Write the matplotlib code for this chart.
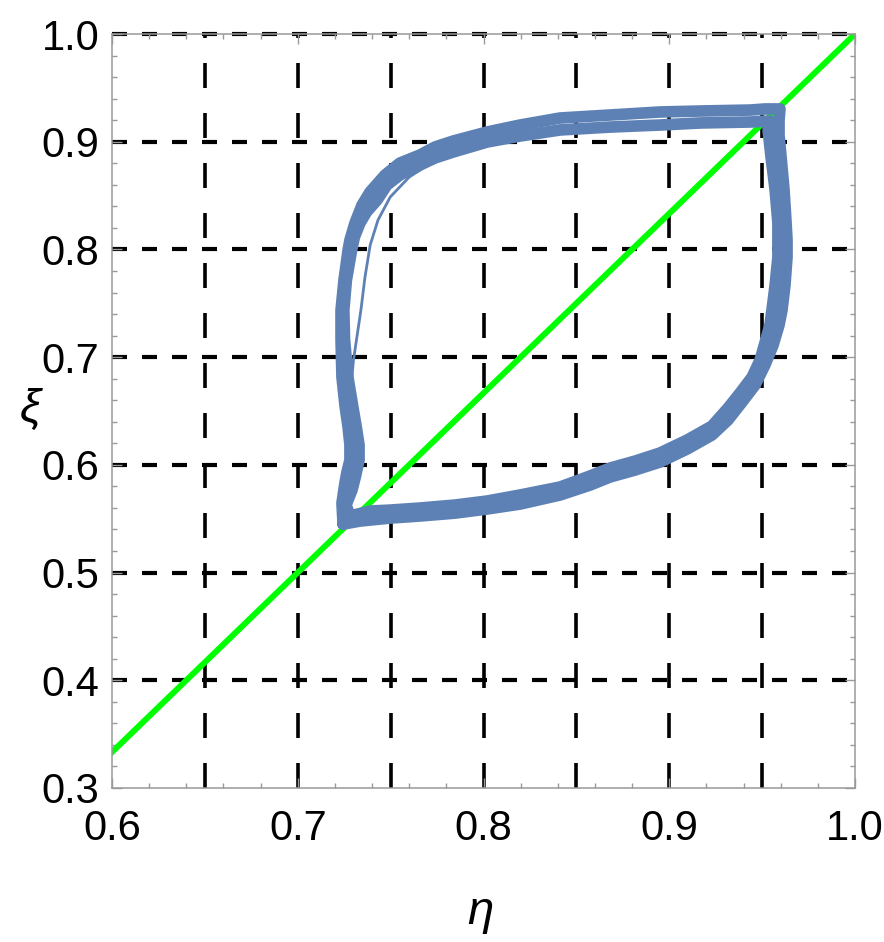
import matplotlib
matplotlib.use("Agg")
import matplotlib.pyplot as plt
from matplotlib.ticker import MultipleLocator

plt.rcParams['font.family'] = ['Liberation Sans', 'DejaVu Sans']
plt.rcParams['lines.scale_dashes'] = False

# outer lap of the cycle (eta, xi)
lap1_eta = [0.7244, 0.7335, 0.7497, 0.7658, 0.7847, 0.8019, 0.8197, 0.8412, 0.8573, 0.8681,
            0.8816, 0.8950, 0.9096, 0.9230, 0.9316, 0.9392, 0.9462, 0.9515, 0.9559, 0.9591,
            0.9607, 0.9623, 0.9634, 0.9634, 0.9629, 0.9618, 0.9602, 0.9591, 0.9591, 0.9596,
            0.9515, 0.9435, 0.9166, 0.8950, 0.8681, 0.8412, 0.8197, 0.8019, 0.7836, 0.7739,
            0.7658, 0.7550, 0.7470, 0.7389, 0.7346, 0.7308, 0.7281, 0.7271, 0.7249, 0.7233,
            0.7233, 0.7238, 0.7254, 0.7271, 0.7281, 0.7281, 0.7265, 0.7254, 0.7238, 0.7244]
lap1_xi = [0.5450, 0.5478, 0.5506, 0.5525, 0.5552, 0.5590, 0.5636, 0.5720, 0.5812, 0.5887,
           0.5952, 0.6026, 0.6147, 0.6277, 0.6416, 0.6583, 0.6741, 0.6927, 0.7112, 0.7298,
           0.7437, 0.7669, 0.7929, 0.8087, 0.8245, 0.8552, 0.8858, 0.9062, 0.9201, 0.9304,
           0.9304, 0.9294, 0.9285, 0.9276, 0.9248, 0.9220, 0.9155, 0.9090, 0.9006, 0.8951,
           0.8877, 0.8802, 0.8691, 0.8533, 0.8412, 0.8245, 0.8087, 0.7994, 0.7716, 0.7437,
           0.7159, 0.6815, 0.6555, 0.6351, 0.6184, 0.6045, 0.5933, 0.5831, 0.5645, 0.5450]

# inner lap
lap2_eta = [0.7281, 0.7389, 0.7497, 0.7658, 0.7847, 0.8019, 0.8197, 0.8412, 0.8573, 0.8681,
            0.8816, 0.8950, 0.9096, 0.9230, 0.9316, 0.9381, 0.9446, 0.9489, 0.9515, 0.9542,
            0.9553, 0.9570, 0.9585, 0.9585, 0.9585, 0.9570, 0.9548, 0.9532, 0.9542, 0.9435,
            0.9166, 0.8950, 0.8681, 0.8412, 0.8197, 0.8019, 0.7836, 0.7739, 0.7658, 0.7550,
            0.7480, 0.7427, 0.7370, 0.7335, 0.7305, 0.7290, 0.7262, 0.7248, 0.7252, 0.7270,
            0.7295, 0.7315, 0.7330, 0.7330, 0.7310, 0.7292, 0.7260, 0.7281]
lap2_xi = [0.5525, 0.5571, 0.5580, 0.5599, 0.5627, 0.5664, 0.5720, 0.5794, 0.5896, 0.5970,
           0.6035, 0.6110, 0.6230, 0.6360, 0.6527, 0.6667, 0.6815, 0.6973, 0.7131, 0.7298,
           0.7437, 0.7669, 0.7929, 0.8087, 0.8245, 0.8552, 0.8858, 0.9109, 0.9192, 0.9183,
           0.9174, 0.9155, 0.9136, 0.9109, 0.9053, 0.8997, 0.8904, 0.8849, 0.8784, 0.8691,
           0.8598, 0.8459, 0.8347, 0.8245, 0.8115, 0.7994, 0.7716, 0.7437, 0.7159, 0.6815,
           0.6555, 0.6351, 0.6184, 0.6045, 0.5887, 0.5766, 0.5627, 0.5525]

# thin strand on the upper left
lap3_eta = [0.7270, 0.7300, 0.7340, 0.7362, 0.7390, 0.7432, 0.7498, 0.7600, 0.7718, 0.7820]
lap3_xi = [0.6416, 0.6973, 0.7437, 0.7744, 0.8041, 0.8273, 0.8487, 0.8672, 0.8802, 0.8895]

# green diagonal
diag_eta = [0.6, 1.0]
diag_xi = [1 / 3, 1.0]

grid_eta = [0.65, 0.70, 0.75, 0.80, 0.85, 0.90, 0.95]
grid_xi = [0.4, 0.5, 0.6, 0.7, 0.8, 0.9, 1.0]

blue = '#5e81b5'

fig = plt.figure(figsize=(8.84, 9.42), dpi=100)
ax = fig.add_axes([0.1267, 0.1635, 0.8405, 0.8004])

for gy in grid_xi:
    ax.plot([0.6, 1.0], [gy, gy], color='black', lw=3.0, dashes=(10.8, 10.8),
            zorder=1, clip_on=False)
for gx in grid_eta:
    ax.plot([gx, gx], [0.3, 1.0], color='black', lw=2.6, dashes=(18, 18),
            zorder=1, clip_on=False)

ax.plot(diag_eta, diag_xi, color='#00ff00', lw=4.3, zorder=2)

for ex, xx, w in [(lap1_eta, lap1_xi, 8.4), (lap2_eta, lap2_xi, 8.4), (lap3_eta, lap3_xi, 2.0)]:
    ax.plot(ex, xx, color=blue, lw=w, solid_joinstyle='round', solid_capstyle='round', zorder=3)

ax.set_xlim(0.6, 1.0)
ax.set_ylim(0.3, 1.0)
ax.xaxis.set_major_locator(MultipleLocator(0.1))
ax.yaxis.set_major_locator(MultipleLocator(0.1))
ax.xaxis.set_minor_locator(MultipleLocator(0.02))
ax.yaxis.set_minor_locator(MultipleLocator(0.02))
ax.set_xticklabels([f'{v:.1f}' for v in ax.get_xticks()])
ax.set_yticklabels([f'{v:.1f}' for v in ax.get_yticks()])

for s in ax.spines.values():
    s.set_color('#999999')
    s.set_linewidth(1.1)
ax.tick_params(which='both', direction='in', color='#999999', top=True, right=True, width=1.0)
ax.tick_params(which='major', length=7, labelsize=30)
ax.tick_params(which='minor', length=3.5)
ax.tick_params(axis='x', pad=15)
ax.tick_params(axis='y', pad=9)

fig.text(0.543, 0.032, 'η', fontsize=34, style='italic', ha='center', va='center')
fig.text(0.034, 0.565, 'ξ', fontsize=34, style='italic', ha='center', va='center')

fig.savefig('out.png', dpi=100)
